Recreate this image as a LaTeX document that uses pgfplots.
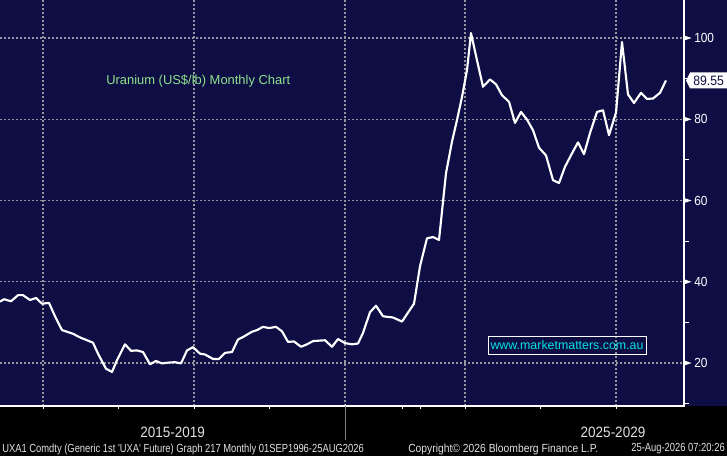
\documentclass[border=0pt]{standalone}
\usepackage{pgfplots}
\pgfplotsset{compat=1.18}
\usepackage{fontspec}
\setmainfont{Liberation Sans}
\newfontfamily\bbg[FakeStretch=0.9]{Liberation Sans}
\newfontfamily\bbgn[FakeStretch=0.8]{Liberation Sans}
\newfontfamily\bbgm[FakeStretch=0.88]{Liberation Sans}
\definecolor{bgnavy}{RGB}{15,14,68}
\definecolor{gridgray}{RGB}{150,150,160}
\definecolor{titlegreen}{RGB}{140,226,140}
\definecolor{urlcyan}{RGB}{0,228,228}
\definecolor{lbl}{RGB}{225,225,225}
\begin{document}
\begin{tikzpicture}[x=0.75pt,y=0.75pt]
\useasboundingbox (0,0) rectangle (727,456);
\fill[black] (0,0) rectangle (727,456);
\fill[bgnavy] (0,50) rectangle (727,456);
\begin{axis}[at={(0pt,37.5pt)}, anchor=south west,
  width=513pt, height=304.5pt, scale only axis,
  xmin=0, xmax=684, ymin=9.42, ymax=109.35,
  hide axis, clip=false]
% grid
\pgfplotsinvokeforeach{20,40,60,80,100}{
  \draw[gridgray, line width=1.05pt, dash pattern=on 1.5pt off 1.5pt] (axis cs:0,#1) -- (axis cs:684,#1);
}
\pgfplotsinvokeforeach{43,194,345,465,616}{
  \draw[gridgray, line width=1.05pt, dash pattern=on 1.5pt off 1.5pt] (axis cs:#1,9.42) -- (axis cs:#1,109.35);
}
% axis lines
\draw[white, line width=0.9pt] (axis cs:0,9.42) -- (axis cs:684,9.42) -- (axis cs:684,109.35);
% data
\addplot[white, line width=1.6pt, line join=round, mark=none] coordinates {
(0,35.1) (4,35.7) (11,35.2) (18,36.7) (23,36.7) (30,35.5) (36,36.0) (42,34.6)
(49,34.8) (55,31.5) (62,28.1) (67,27.7) (73,27.2) (80,26.3) (87,25.6) (93,25.0)
(98,22.3) (106,18.6) (112,17.8) (117,20.7) (125,24.6) (131,23.0) (137,23.1)
(143,22.7) (150,19.7) (156,20.5) (162,19.9) (168,20.1) (175,20.2) (181,19.9)
(187,23.1) (193,23.9) (200,22.3) (205,22.1) (213,21.0) (219,21.0) (225,22.5)
(232,22.7) (238,25.8) (243,26.4) (252,27.7) (257,28.1) (263,28.9) (269,28.6)
(276,28.9) (282,27.8) (288,25.2) (294,25.3) (301,24.0) (307,24.6) (313,25.4)
(325,25.6) (332,24.0) (338,25.9) (345,24.9) (352,24.6) (358,24.8) (363,27.4)
(370,32.5) (376,34.1) (383,31.5) (393,31.2) (402,30.2) (414,34.6) (420,43.8)
(427,50.7) (433,51.0) (439,50.3) (446,66.7) (452,74.5) (457,79.8) (462,85.5)
(467,92.1) (471,101.2) (477,94.5) (483,88.0) (490,89.8) (496,88.6) (502,85.9)
(509,84.3) (515,79.1) (521,81.8) (527,79.9) (533,77.3) (539,73.0) (546,71.1)
(553,65.0) (559,64.3) (565,68.3) (572,71.6) (578,74.3) (584,71.4) (590,76.6)
(597,81.8) (603,82.2) (609,76.1) (616,81.6) (622,99.0) (628,86.1) (634,84.0)
(641,86.5) (647,85.0) (653,85.1) (660,86.5) (666,89.55)
};
% title
\node[anchor=west, inner sep=0pt, text=titlegreen, font=\fontsize{9.7pt}{11pt}\selectfont] at (axis cs:106,89.4) {Uranium (US\$/lb) Monthly Chart};
% url box
\node[draw=white, line width=0.75pt, inner sep=0pt, minimum width=118.5pt, minimum height=13.5pt, text=urlcyan, font=\fontsize{9.3pt}{10pt}\selectfont] at (axis cs:567,24.43) {www.marketmatters.com.au};
\end{axis}
% y ticks (picture px coordinates: y = 50 + (v-9.42)*4.0625)
\foreach \v/\yy in {20/92.98,40/174.2,60/255.5,80/336.7,100/418.0}{
  \fill[white] (684.5,\yy-2.4) -- (691.5,\yy) -- (684.5,\yy+2.4) -- cycle;
  \node[anchor=west, inner sep=0pt, text=white, font=\bbg\fontsize{9.9pt}{10pt}\selectfont] at (694,\yy) {\v};
}
\foreach \yy in {52.4,133.6,214.8,296.1,377.3}{
  \draw[white, line width=0.75pt] (684,\yy) -- (688.5,\yy);
}
% x ticks
\foreach \xx in {43,118,194,269,402,420,465,540,616}{
  \draw[white, line width=0.75pt] (\xx,50) -- (\xx,46.5);
}
\draw[gray, line width=0.75pt] (345.5,50) -- (345.5,16);
% last value label
\fill[white] (686,375.5) -- (690,383.5) -- (730,383.5) -- (730,367.5) -- (690,367.5) -- cycle;
\node[anchor=west, inner sep=0pt, text=bgnavy, font=\bbg\fontsize{10.2pt}{11pt}\selectfont] at (693,375.5) {89.55};
% period labels
\node[text=lbl, font=\bbg\fontsize{11.25pt}{12pt}\selectfont, inner sep=0pt] at (172.7,24) {2015-2019};
\node[text=lbl, font=\bbg\fontsize{11.25pt}{12pt}\selectfont, inner sep=0pt] at (613,24) {2025-2029};
% footer
\node[anchor=west, text=lbl, font=\bbgn\fontsize{8.8pt}{9pt}\selectfont, inner sep=0pt] at (2,7) {UXA1 Comdty (Generic 1st 'UXA' Future) Graph 217 Monthly 01SEP1996-25AUG2026};
\node[anchor=west, text=lbl, font=\bbgm\fontsize{8.8pt}{9pt}\selectfont, inner sep=0pt] at (408,7) {Copyright© 2026 Bloomberg Finance L.P.};
\node[anchor=east, text=lbl, font=\bbgn\fontsize{8.8pt}{9pt}\selectfont, inner sep=0pt] at (725,7) {25-Aug-2026 07:20:26};
\end{tikzpicture}
\end{document}
